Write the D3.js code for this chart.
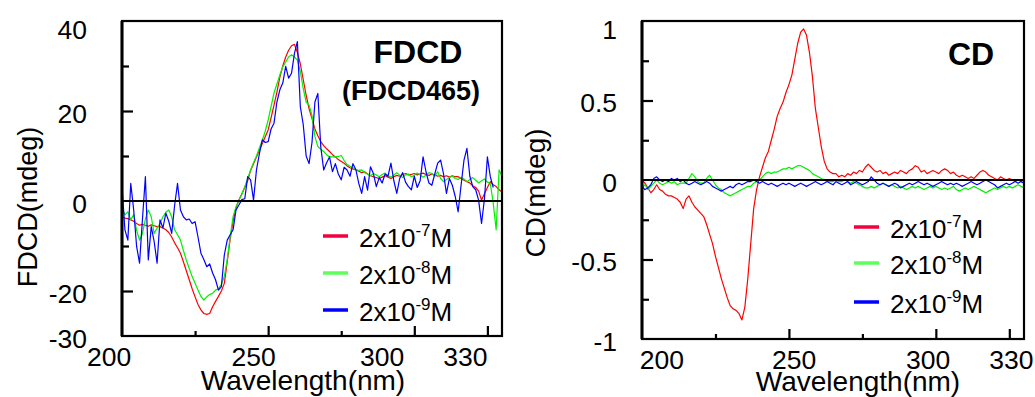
<!DOCTYPE html>
<html>
<head>
<meta charset="utf-8">
<script src="https://cdn.jsdelivr.net/npm/d3@7"></script>
<style>
  html, body { margin: 0; padding: 0; background: #fff; }
  svg { display: block; font-family: "Liberation Sans", Arial, sans-serif; }
</style>
</head>
<body>
<svg id="chart" width="1035" height="397"></svg>
<script>
// wavelength grid, 1 nm steps
const wavelengths = d3.range(200, 331);

// FDCD panel (mdeg)
const fdcdRed = [
  -3.5,-3.8,-3.9,-4.2,-4.5,-5.0,-5.4,-5.2,-5.4,-5.6,
  -5.3,-5.5,-5.7,-5.7,-6.0,-6.4,-7.0,-8.0,-9.3,-10.4,
  -11.6,-13.5,-15.5,-17.5,-19.5,-21.3,-23.0,-24.2,-25.0,-25.2,
  -25.0,-23.5,-22.3,-21.2,-20.0,-18.3,-13.5,-8.5,-4.5,-1.5,
  0.2,1.6,3.0,4.5,6.8,8.3,9.8,11.3,12.8,14.3,
  15.8,18.5,21.3,24.2,27.5,30.0,32.0,33.5,34.5,34.8,
  33.0,30.5,27.0,23.5,20.5,18.3,16.0,14.5,13.2,12.3,
  11.6,11.0,10.3,9.8,9.2,8.8,8.4,7.8,7.4,7.1,
  6.9,6.6,6.3,6.5,6.0,5.6,5.4,5.2,5.0,5.3,
  5.6,5.3,5.0,5.4,5.7,5.5,5.9,6.1,5.8,5.9,
  6.1,5.8,6.0,6.2,5.9,5.7,6.0,5.8,5.5,5.7,
  5.4,5.6,5.3,5.6,5.4,5.4,5.0,4.6,4.3,4.0,
  3.4,3.0,2.2,0.2,1.6,3.0,4.3,3.6,3.2,2.5,
  2.0
];
const fdcdGreen = [
  -1.3,-3.1,-2.4,-4.2,-3.0,-6.5,-8.7,-7.2,-4.0,-2.0,
  -3.5,-7.2,-6.0,-5.0,-3.5,-2.5,-2.0,-3.5,-6.4,-7.5,
  -8.7,-11.0,-13.1,-15.0,-16.8,-18.3,-19.8,-21.2,-22.0,-21.3,
  -20.8,-20.5,-19.8,-19.5,-18.5,-16.8,-13.0,-7.9,-3.5,-1.3,
  0.2,1.5,3.2,5.0,6.9,8.5,10.0,11.8,13.5,15.5,
  18.0,21.0,24.0,26.0,28.0,29.8,30.9,32.0,32.5,32.0,
  31.3,28.8,25.0,22.0,21.3,19.0,14.3,12.1,11.5,11.0,
  10.3,9.8,9.8,9.8,9.9,10.1,9.0,8.1,7.7,7.4,
  7.0,6.8,6.9,6.3,6.0,5.6,6.1,5.8,5.4,5.9,
  6.2,5.6,5.3,5.8,6.3,5.7,5.2,5.8,6.0,5.4,
  5.7,6.2,5.8,5.3,5.7,6.3,6.1,5.5,6.5,5.0,
  4.3,4.8,5.2,5.6,5.0,4.8,5.3,4.9,4.3,4.8,
  5.2,4.6,4.0,4.5,4.9,4.2,3.9,-0.5,-6.4,6.9,
  5.5
];
const fdcdBlue = [
  3.2,-6.4,-8.7,3.9,-2.0,-10.1,-13.8,-4.0,5.4,-13.1,
  -5.7,-9.0,-13.8,-4.2,-6.0,-2.7,-4.5,-7.2,-1.0,3.9,
  -2.0,-3.5,-4.2,-4.0,-5.0,-4.6,-8.0,-11.6,-13.0,-14.6,
  -14.0,-16.0,-17.5,-19.8,-19.0,-12.0,-8.7,-7.5,-6.4,-2.0,
  -0.9,0.3,0.5,5.4,4.7,0.2,6.9,10.5,13.6,13.0,
  13.2,16.0,17.3,22.0,24.7,26.2,29.9,27.3,28.4,32.8,
  35.4,21.0,17.0,10.0,8.3,13.0,22.0,23.9,12.0,6.9,
  8.5,9.8,6.5,8.3,6.0,4.7,7.5,6.9,5.5,8.3,
  7.0,3.9,1.7,5.4,2.4,7.6,6.1,3.2,5.2,4.0,
  6.0,5.5,8.4,4.5,1.7,5.0,6.3,4.2,3.2,2.5,
  5.5,3.0,4.5,9.8,6.5,4.0,3.5,6.0,8.4,9.1,
  6.0,1.7,5.0,3.5,1.0,-2.4,3.5,9.1,11.7,5.5,
  3.2,2.5,0.2,-5.0,0.5,9.8,5.4,3.0,null,null,
  null
];

// CD panel (mdeg)
const cdRed = [
  0.00,-0.02,-0.05,-0.08,-0.06,-0.03,-0.06,-0.07,-0.09,-0.10,
  -0.10,-0.11,-0.12,-0.14,-0.18,-0.12,-0.10,-0.14,-0.17,-0.19,
  -0.21,-0.23,-0.28,-0.34,-0.40,-0.48,-0.55,-0.62,-0.68,-0.74,
  -0.79,-0.81,-0.82,-0.84,-0.88,-0.80,-0.62,-0.40,-0.18,-0.06,
  0.02,0.08,0.14,0.18,0.25,0.32,0.40,0.45,0.49,0.55,
  0.60,0.66,0.76,0.86,0.93,0.95,0.91,0.80,0.65,0.45,
  0.33,0.21,0.12,0.07,0.05,0.04,0.04,0.02,0.03,0.02,
  0.04,0.03,0.05,0.04,0.06,0.05,0.08,0.10,0.08,0.06,
  0.05,0.06,0.04,0.05,0.03,0.04,0.05,0.04,0.06,0.05,
  0.04,0.06,0.07,0.09,0.08,0.05,0.06,0.04,0.05,0.06,
  0.05,0.04,0.06,0.07,0.06,0.04,0.05,0.03,0.02,0.03,
  0.02,0.01,0.02,0.01,0.03,0.05,0.06,0.05,0.03,0.02,
  0.01,0.00,0.02,0.01,0.00,0.01,0.00,-0.01,0.00,-0.01,
  -0.02
];
const cdGreen = [
  -0.05,-0.03,-0.06,-0.04,-0.02,0.00,-0.02,-0.03,-0.02,-0.01,
  -0.02,-0.01,-0.03,-0.02,-0.02,-0.02,0.01,0.04,0.02,-0.01,
  -0.02,-0.02,0.01,0.03,0.00,-0.03,-0.05,-0.06,-0.08,-0.09,
  -0.10,-0.09,-0.08,-0.07,-0.06,-0.05,-0.04,-0.04,-0.02,-0.01,
  0.00,0.02,0.04,0.05,0.04,0.05,0.05,0.06,0.07,0.07,
  0.08,0.07,0.08,0.09,0.09,0.08,0.07,0.06,0.04,0.03,
  0.02,0.01,0.00,-0.01,-0.01,-0.01,0.00,-0.01,-0.01,0.00,
  -0.01,-0.02,-0.01,-0.02,-0.03,-0.04,-0.05,-0.05,-0.04,-0.05,
  -0.04,-0.03,-0.02,-0.03,-0.04,-0.03,-0.04,-0.05,-0.04,-0.05,
  -0.06,-0.05,-0.04,-0.05,-0.04,-0.05,-0.06,-0.05,-0.04,-0.05,
  -0.04,-0.05,-0.06,-0.05,-0.06,-0.05,-0.04,-0.06,-0.07,-0.06,
  -0.05,-0.06,-0.05,-0.04,-0.05,-0.06,-0.07,-0.08,-0.07,-0.06,
  -0.05,-0.06,-0.05,-0.04,-0.05,-0.04,-0.05,-0.04,-0.03,-0.04,
  -0.05
];
const cdBlue = [
  -0.04,-0.06,-0.05,-0.03,0.01,0.02,0.00,-0.01,0.00,-0.01,
  0.01,0.00,0.01,-0.01,0.00,-0.02,-0.03,-0.02,-0.01,-0.02,
  -0.03,-0.02,-0.01,-0.02,-0.04,-0.05,-0.06,-0.07,-0.06,-0.05,
  -0.04,-0.05,-0.03,-0.02,-0.03,-0.02,-0.01,-0.01,0.00,-0.01,
  -0.02,-0.01,-0.02,-0.03,-0.02,-0.03,-0.04,-0.03,-0.02,-0.03,
  -0.02,-0.03,-0.04,-0.03,-0.02,-0.03,-0.04,-0.03,-0.02,-0.01,
  -0.02,-0.03,-0.02,-0.01,-0.02,-0.03,-0.01,-0.02,-0.03,-0.02,
  -0.01,-0.03,-0.02,-0.01,-0.02,-0.03,-0.02,-0.01,0.02,0.00,
  -0.02,-0.03,-0.02,-0.03,-0.04,-0.03,-0.02,-0.03,-0.05,-0.04,
  -0.03,-0.02,-0.03,-0.02,-0.01,-0.02,-0.03,-0.02,-0.03,-0.04,
  -0.03,-0.02,-0.01,-0.02,-0.03,-0.02,-0.03,-0.02,-0.03,-0.04,
  -0.03,-0.02,-0.01,-0.02,-0.03,-0.02,-0.01,0.00,-0.01,-0.02,
  -0.03,-0.05,-0.04,-0.03,-0.02,-0.03,-0.02,-0.01,-0.02,-0.01,
  -0.02
];

const concExp = ["-7", "-8", "-9"];
const curveColors = ["#ff0000", "#00f000", "#0000ff"];
const legendColors = ["#f5003d", "#5cff5c", "#0000ff"];

const xMajor = [250, 300, 325];
const xMinor = [225, 275];
const xLabels = ["200", "250", "300", "330"];

const fdcdYLabels = [40, 20, 0, -20, -30];
const fdcdYMajor = [20, -20];
const fdcdYMinor = [30, 10, -10];
const cdYLabels = [1, 0.5, 0, -0.5, -1];
const cdYMajor = [0.5, -0.5];
const cdYMinor = [0.75, 0.25, -0.25, -0.75];

const svg = d3.select("#chart");

const panels = [
  {
    left: 122, right: 502, top: 21, bottom: 336,
    yDomain: [-30, 40],
    series: [fdcdRed, fdcdGreen, fdcdBlue],
    yLabels: fdcdYLabels, yMajor: fdcdYMajor, yMinor: fdcdYMinor,
    xLabelAt: [195.6, 245, 289, 317.5],
    yTitle: "FDCD(mdeg)", yTitleX: 37, yTitleY: 207, yTitleSize: 27,
    labelRight: 87,
    xTitleX: 303, xTitleY: 390,
    legendX: 323, legendY: [236, 273, 310],
    titles: [
      { text: "FDCD", x: 418, y: 63, size: 32 },
      { text: "(FDCD465)", x: 411, y: 100, size: 27 }
    ]
  },
  {
    left: 642, right: 1024, top: 21, bottom: 339,
    yDomain: [-1, 1],
    series: [cdRed, cdGreen, cdBlue],
    yLabels: cdYLabels, yMajor: cdYMajor, yMinor: cdYMinor,
    xLabelAt: [206.8, 251.8, 297.4, 325.7],
    yTitle: "CD(mdeg)", yTitleX: 545, yTitleY: 193, yTitleSize: 28,
    labelRight: 617,
    xTitleX: 858, xTitleY: 391,
    legendX: 854, legendY: [227, 263, 302],
    titles: [
      { text: "CD", x: 971, y: 65, size: 32 }
    ]
  }
];

panels.forEach(p => {
  const x = d3.scaleLinear().domain([200, 330]).range([p.left, p.right]);
  const y = d3.scaleLinear().domain(p.yDomain).range([p.bottom, p.top]);
  const g = svg.append("g");

  // curves
  const line = d3.line()
    .defined(d => d[1] != null)
    .x(d => x(d[0]))
    .y(d => y(d[1]));
  p.series.forEach((vals, i) => {
    g.append("path")
      .datum(wavelengths.map((w, j) => [w, vals[j]]))
      .attr("fill", "none")
      .attr("stroke", curveColors[i])
      .attr("stroke-width", 1.2)
      .attr("stroke-linejoin", "round")
      .attr("d", line);
  });

  // zero line
  g.append("line")
    .attr("x1", p.left).attr("x2", p.right)
    .attr("y1", y(0)).attr("y2", y(0))
    .attr("stroke", "#000").attr("stroke-width", 2.2);

  // inward ticks
  const yMaj = g.append("g").attr("transform", `translate(${p.left},0)`)
    .call(d3.axisLeft(y).tickValues(p.yMajor).tickSize(-11).tickFormat(""));
  const yMin = g.append("g").attr("transform", `translate(${p.left},0)`)
    .call(d3.axisLeft(y).tickValues(p.yMinor).tickSize(-7).tickFormat(""));
  const xMaj = g.append("g").attr("transform", `translate(0,${p.bottom})`)
    .call(d3.axisBottom(x).tickValues(xMajor).tickSize(-10).tickFormat(""));
  const xMin = g.append("g").attr("transform", `translate(0,${p.bottom})`)
    .call(d3.axisBottom(x).tickValues(xMinor).tickSize(-5).tickFormat(""));
  [yMaj, yMin, xMaj, xMin].forEach(a => {
    a.select(".domain").remove();
    a.selectAll("line").attr("stroke", "#000").attr("stroke-width", 2.2);
  });

  // frame
  g.append("rect")
    .attr("x", p.left).attr("y", p.top)
    .attr("width", p.right - p.left).attr("height", p.bottom - p.top)
    .attr("fill", "none").attr("stroke", "#000").attr("stroke-width", 2.2);
  g.append("line")
    .attr("x1", p.left).attr("x2", p.left)
    .attr("y1", p.top).attr("y2", p.bottom)
    .attr("stroke", "#000").attr("stroke-width", 3);

  // y labels
  g.selectAll("text.ylab")
    .data(p.yLabels)
    .enter().append("text")
      .attr("class", "ylab")
      .attr("x", p.labelRight)
      .attr("y", d => Math.max(y(d) + 2, 29))
      .attr("dy", "0.36em")
      .attr("text-anchor", "end")
      .attr("font-size", 26.5)
      .text(d => d);

  // x labels
  g.selectAll("text.xlab")
    .data(xLabels)
    .enter().append("text")
      .attr("class", "xlab")
      .attr("x", (d, i) => x(p.xLabelAt[i]))
      .attr("y", p.bottom + 30)
      .attr("text-anchor", "middle")
      .attr("font-size", 26.5)
      .text(d => d);

  // axis titles
  g.append("text")
    .attr("x", p.xTitleX).attr("y", p.xTitleY)
    .attr("text-anchor", "middle")
    .attr("font-size", 28)
    .text("Wavelength(nm)");
  g.append("text")
    .attr("transform", `translate(${p.yTitleX},${p.yTitleY}) rotate(-90)`)
    .attr("text-anchor", "middle")
    .attr("font-size", p.yTitleSize)
    .text(p.yTitle);

  // panel titles
  p.titles.forEach(t => {
    g.append("text")
      .attr("x", t.x).attr("y", t.y)
      .attr("text-anchor", "middle")
      .attr("font-size", t.size)
      .attr("font-weight", "bold")
      .text(t.text);
  });

  // legend
  const lg = g.append("g")
    .selectAll("g")
    .data(concExp)
    .enter().append("g")
      .attr("transform", (d, i) => `translate(${p.legendX},${p.legendY[i]})`);
  lg.append("line")
    .attr("x1", 0).attr("x2", 25)
    .attr("stroke", (d, i) => legendColors[i])
    .attr("stroke-width", 3.5);
  const lt = lg.append("text")
    .attr("x", 36).attr("y", 11)
    .attr("font-size", 26);
  lt.append("tspan").text("2x10");
  lt.append("tspan").attr("font-size", 17).attr("dy", -11).text(d => d);
  lt.append("tspan").attr("dy", 11).text("M");
});
</script>
</body>
</html>
